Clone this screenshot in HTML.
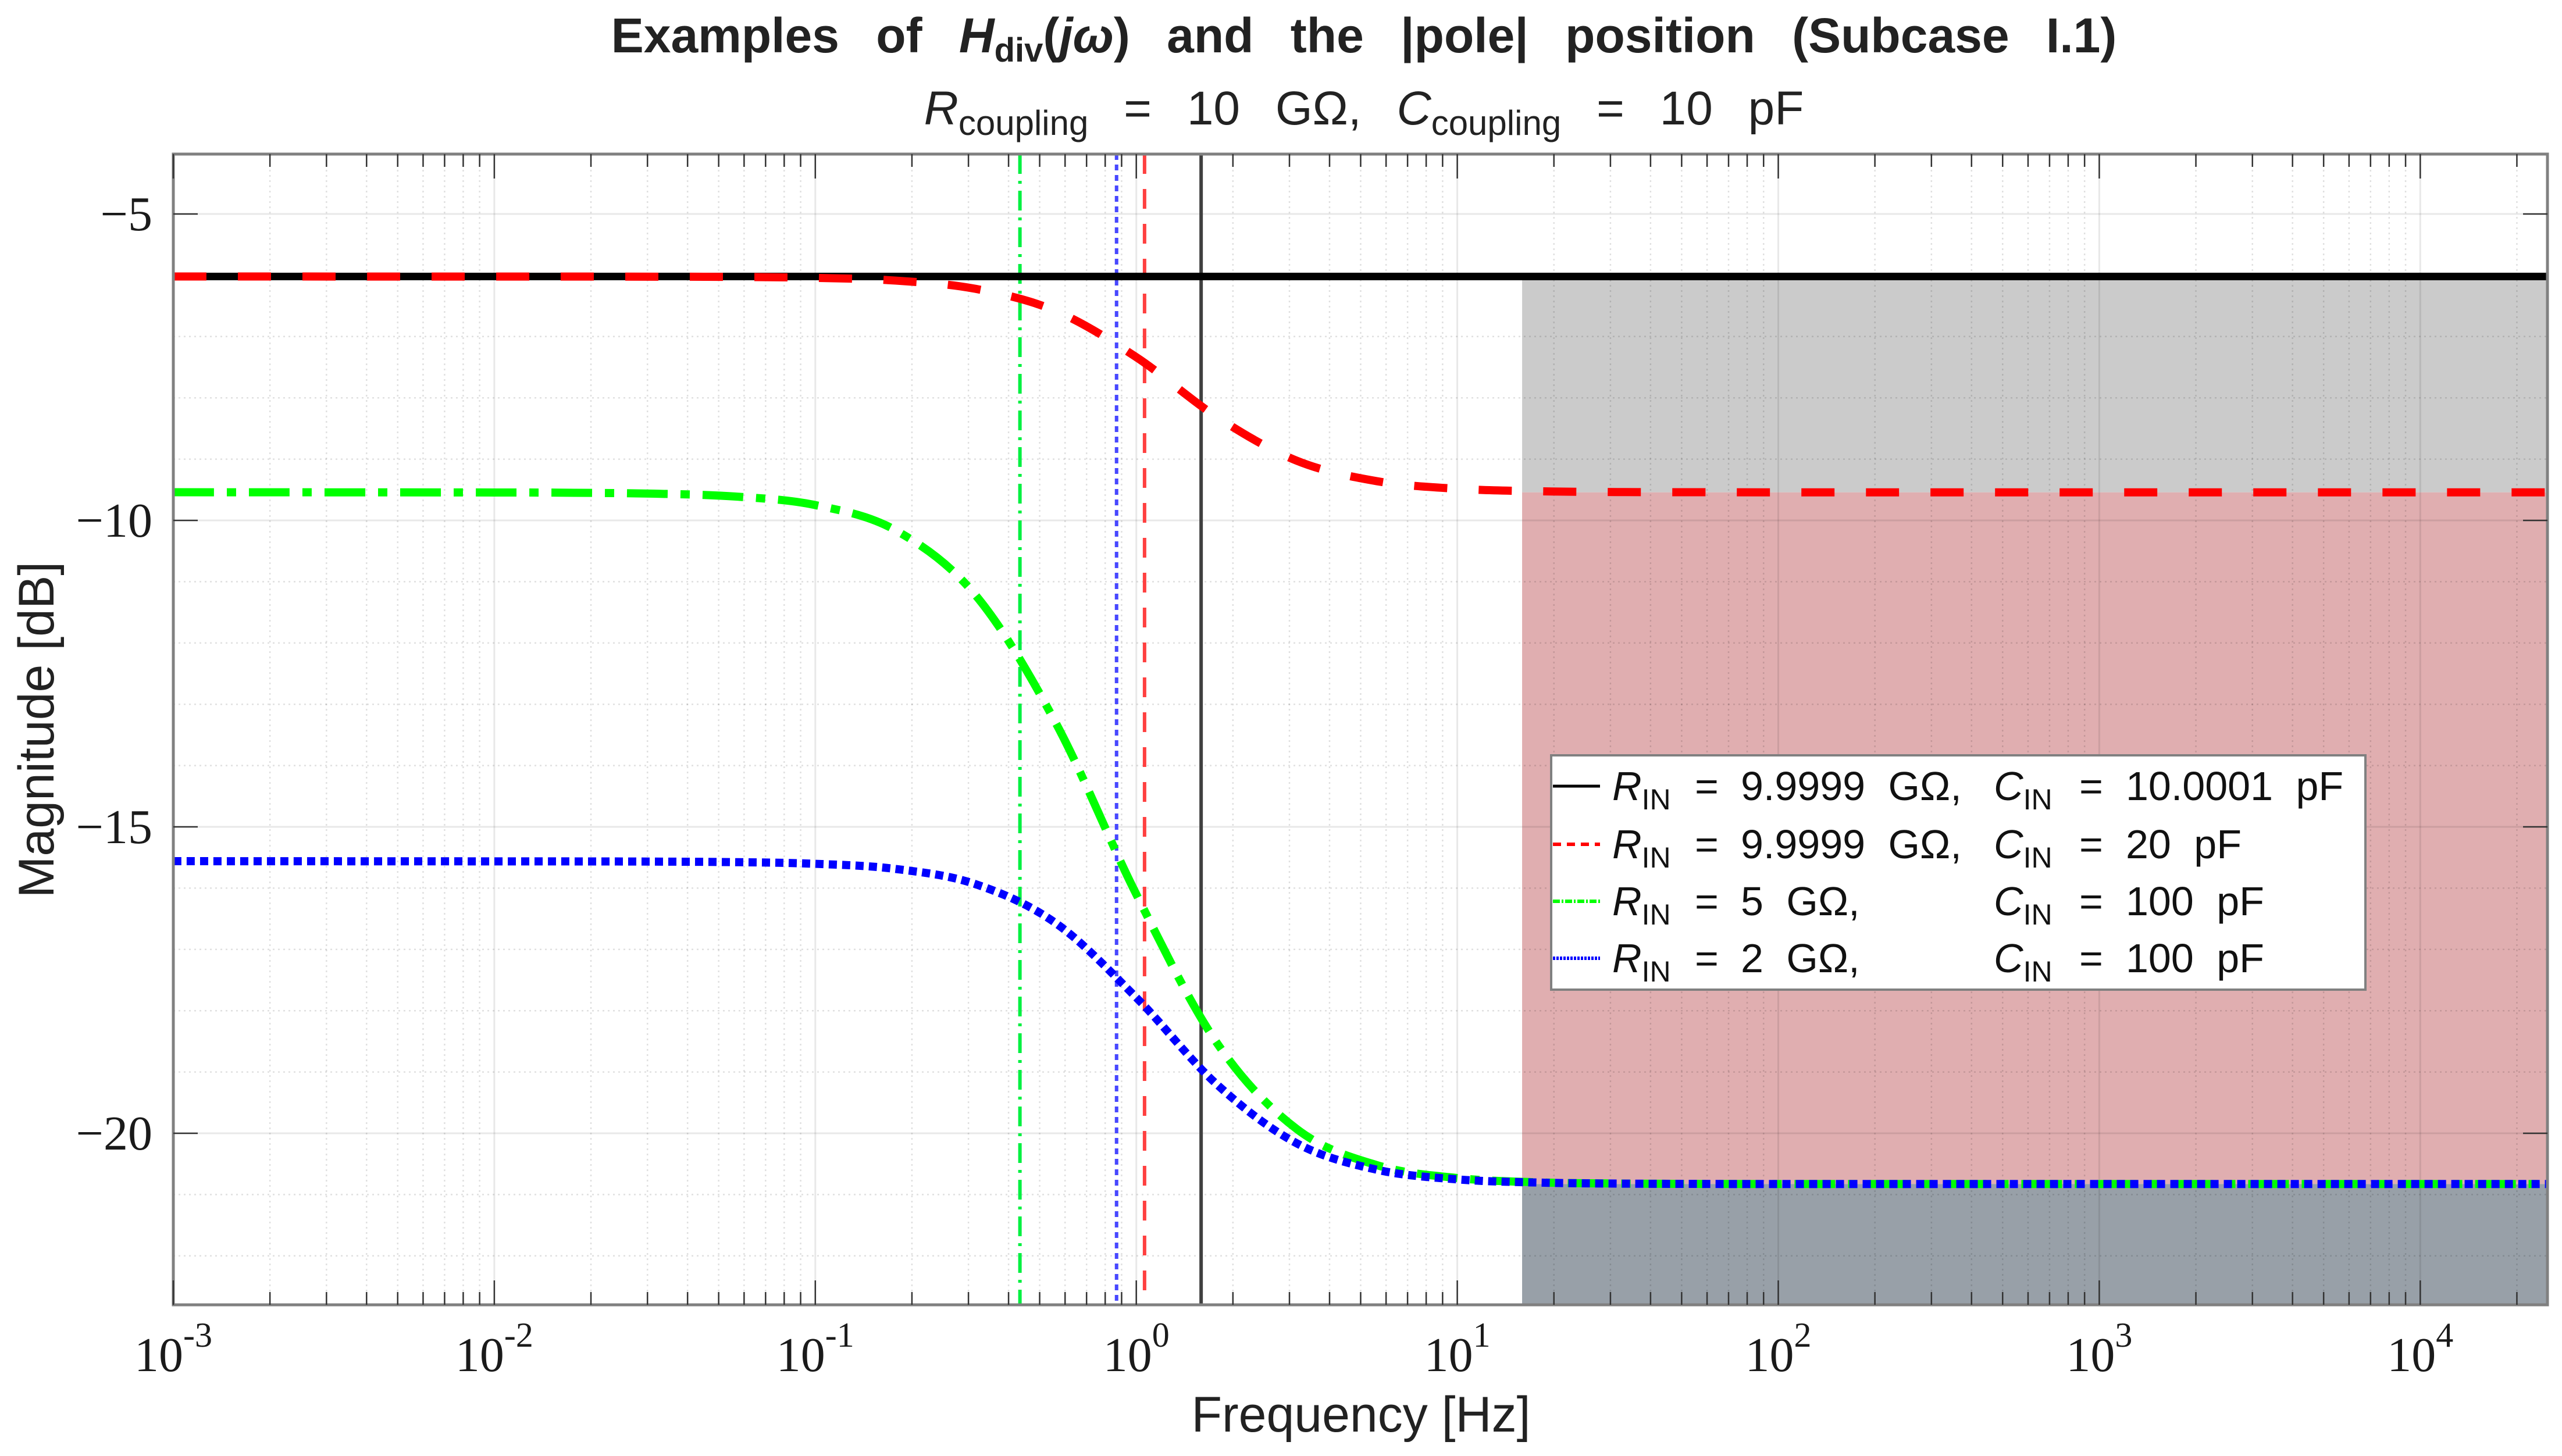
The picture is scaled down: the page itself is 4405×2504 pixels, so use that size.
<!DOCTYPE html>
<html><head><meta charset="utf-8"><title>Examples of Hdiv(jω) and the |pole| position</title>
<style>
html,body{margin:0;padding:0;background:#fff;}
svg{display:block;}
.sans{font-family:"Liberation Sans",sans-serif;}
.serif{font-family:"Liberation Serif",serif;}
</style></head>
<body>
<svg id="chart" width="4405" height="2504" viewBox="0 0 4405 2504" xmlns="http://www.w3.org/2000/svg">
  <g id="shade"></g>
  <g id="grid"></g>
  <g id="vlines"></g>
  <g id="series"></g>
  <g id="axes"></g>
  <text class="sans" x="2345" y="90" text-anchor="middle" font-size="84" font-weight="bold" fill="#222" word-spacing="40">Examples of <tspan font-style="italic">H</tspan><tspan font-size="58" dy="16">div</tspan><tspan dy="-16">(</tspan><tspan font-style="italic">jω</tspan>) and the |pole| position (Subcase I.1)</text>
  <text class="sans" x="2345" y="214" text-anchor="middle" font-size="82" fill="#222" word-spacing="38"><tspan font-style="italic">R</tspan><tspan font-size="60" dy="18">coupling</tspan><tspan dy="-18"> = 10 GΩ, </tspan><tspan font-style="italic">C</tspan><tspan font-size="60" dy="18">coupling</tspan><tspan dy="-18"> = 10 pF</tspan></text>
  <text class="sans" x="2340" y="2462" text-anchor="middle" font-size="86" fill="#222">Frequency [Hz]</text>
  <text class="sans" x="0" y="0" transform="translate(92,1255) rotate(-90)" text-anchor="middle" font-size="86" fill="#222">Magnitude [dB]</text>
  <g id="legend"></g>
</svg>
<script>
// ---- data ----
const freqs = [0.001,0.01,0.0178,0.0316,0.0562,0.1,0.178,0.316,0.562,1,1.78,3.16,5.62,10,17.8,31.6,56.2,100,1000,25000];
const blackDb = [-6.02,-6.02,-6.02,-6.02,-6.02,-6.02,-6.02,-6.02,-6.02,-6.02,-6.02,-6.02,-6.02,-6.02,-6.02,-6.02,-6.02,-6.02,-6.02,-6.02];
const redDb   = [-6.02,-6.021,-6.021,-6.023,-6.027,-6.042,-6.087,-6.222,-6.584,-7.336,-8.309,-9.025,-9.36,-9.483,-9.524,-9.537,-9.54,-9.542,-9.542,-9.542];
const greenDb = [-9.54,-9.544,-9.549,-9.564,-9.61,-9.75,-10.162,-11.223,-13.31,-16.10,-18.52,-19.93,-20.52,-20.73,-20.80,-20.82,-20.826,-20.828,-20.828,-20.828];
const blueDb  = [-15.56,-15.563,-15.564,-15.567,-15.576,-15.603,-15.687,-15.936,-16.574,-17.786,-19.20,-20.163,-20.595,-20.752,-20.804,-20.821,-20.826,-20.828,-20.828,-20.828];
const poleFreqs = [1.592,1.061,0.434,0.868];
const shadeStart = 15.92;
const shadeLevels = [-6.02,-9.542,-20.828];
const xTickExps = [-3,-2,-1,0,1,2,3,4];
const yTicks = [-5,-10,-15,-20];
const legendR = ["9.9999 GΩ,","9.9999 GΩ,","5 GΩ,","2 GΩ,"];
const legendC = ["10.0001 pF","20 pF","100 pF","100 pF"];

// ---- scales ----
const L=298,R=4380,T=265,B=2244;
const X0=-3, PXDEC=551.9, Y5=368, PXDB=105.4;
const xs=f=>L+(Math.log10(f)-X0)*PXDEC;
const ys=d=>Y5+(-5-d)*PXDB;
const NS="http://www.w3.org/2000/svg";
function mk(tag,attrs,parent){const e=document.createElementNS(NS,tag);for(const k in attrs)e.setAttribute(k,attrs[k]);parent.appendChild(e);return e;}

// shaded regions
const shade=document.getElementById('shade');
const sx=xs(shadeStart);
let r1=mk('rect',{x:sx,y:ys(shadeLevels[0]),width:R-sx,height:ys(shadeLevels[1])-ys(shadeLevels[0]),fill:'#cbcbcb'},shade);


let r2=mk('rect',{x:sx,y:ys(shadeLevels[1]),width:R-sx,height:ys(shadeLevels[2])-ys(shadeLevels[1]),fill:'#e0aeb0'},shade);


let r3=mk('rect',{x:sx,y:ys(shadeLevels[2]),width:R-sx,height:B-ys(shadeLevels[2]),fill:'#98a0a8'},shade);



// grid
const grid=document.getElementById('grid');
for(let e=-3;e<=4;e++){
  for(let m=1;m<=9;m++){
    const f=m*Math.pow(10,e); const x=xs(f); if(x>R)break;
    const g=mk('line',{x1:x,x2:x,y1:T,y2:B,stroke:'#000','stroke-opacity':m===1?0.09:0.12,'stroke-width':m===1?3:2.5,'stroke-dasharray':m===1?'':'3 6'},grid);
    
    
  }
}
for(let d=-4;d>=-22;d--){
  const y=ys(d); if(y<T||y>B)continue;
  const major=(d%5===0);
  const g=mk('line',{x1:L,x2:R,y1:y,y2:y,stroke:'#000','stroke-opacity':major?0.09:0.12,'stroke-width':major?3:2.5,'stroke-dasharray':major?'':'3 6'},grid);
  
  
}

// pole markers
const vl=document.getElementById('vlines');
const vStyles=[{c:'#404040',d:''},{c:'#ff4040',d:'34 26'},{c:'#00f040',d:'34 12 5 12'},{c:'#4848ff',d:'10 8'}];
const vNames=['pole-black','pole-red','pole-green','pole-blue'];
poleFreqs.forEach((f,i)=>{
  const l=mk('line',{x1:xs(f),x2:xs(f),y1:T,y2:B,stroke:vStyles[i].c,'stroke-width':6,'stroke-dasharray':vStyles[i].d},vl);
  
  
});

// series
function pathFor(db){
  const p=freqs.map((f,i)=>[xs(f),ys(db[i])]);
  let d=`M${p[0][0]},${p[0][1]}`;
  for(let i=0;i<p.length-1;i++){
    const p0=p[Math.max(0,i-1)],p1=p[i],p2=p[i+1],p3=p[Math.min(p.length-1,i+2)];
    const t=1/6;
    let c1=[p1[0]+(p2[0]-p0[0])*t,p1[1]+(p2[1]-p0[1])*t];
    let c2=[p2[0]-(p3[0]-p1[0])*t,p2[1]-(p3[1]-p1[1])*t];
    if(p2[0]-p1[0]>1000){c1=[p1[0]+(p2[0]-p1[0])/3,p1[1]];c2=[p2[0]-(p2[0]-p1[0])/3,p2[1]];}
    d+=` C${c1[0]},${c1[1]} ${c2[0]},${c2[1]} ${p2[0]},${p2[1]}`;
  }
  return d;
}
const ser=document.getElementById('series');
const sb=mk('path',{d:pathFor(blackDb),fill:'none',stroke:'#000','stroke-width':13},ser);


const sr=mk('path',{d:pathFor(redDb),fill:'none',stroke:'#ff0000','stroke-width':14,'stroke-dasharray':'57 54'},ser);


const sg=mk('path',{d:pathFor(greenDb),fill:'none',stroke:'#00ff00','stroke-width':14,'stroke-dasharray':'70 22 16 22'},ser);


const sbl=mk('path',{d:pathFor(blueDb),fill:'none',stroke:'#0000ff','stroke-width':14,'stroke-dasharray':'14 9'},ser);



// axes
const ax=document.getElementById('axes');
const box=mk('rect',{x:L,y:T,width:R-L,height:B-T,fill:'none',stroke:'#808080','stroke-width':5},ax);


for(let e=-3;e<=4;e++){
  for(let m=1;m<=9;m++){
    const x=xs(m*Math.pow(10,e)); if(x>R)break;
    const len=m===1?42:22;
    const t1=mk('line',{x1:x,x2:x,y1:B,y2:B-len,stroke:'#333','stroke-width':2.5},ax);
    
    
    const t2=mk('line',{x1:x,x2:x,y1:T,y2:T+len,stroke:'#333','stroke-width':2.5},ax);
    
    
  }
}
xTickExps.forEach(e=>{
  const x=xs(Math.pow(10,e));
  const t=mk('text',{x:x,y:2358,'text-anchor':'middle','font-size':84,fill:'#1a1a1a',class:'serif'},ax);
  
  
  const a=document.createElementNS(NS,'tspan');a.textContent='10';t.appendChild(a);
  const b=document.createElementNS(NS,'tspan');b.setAttribute('dy','-42');b.setAttribute('font-size','60');b.textContent=(e<0?'-':'')+Math.abs(e);t.appendChild(b);
});
yTicks.forEach(v=>{
  const y=ys(v);
  const tk=mk('line',{x1:L,x2:L+42,y1:y,y2:y,stroke:'#333','stroke-width':2.5},ax);
  
  
  const tk2=mk('line',{x1:R,x2:R-42,y1:y,y2:y,stroke:'#333','stroke-width':2.5},ax);
  
  
  const t=mk('text',{x:262,y:y+28,'text-anchor':'end','font-size':84,fill:'#1a1a1a',class:'serif'},ax);
  
  
  t.textContent='\u2212'+Math.abs(v);
});

// legend
const lg=document.getElementById('legend');
const lbox=mk('rect',{x:2667,y:1299,width:1400,height:403,fill:'#fff',stroke:'#808080','stroke-width':4},lg);


const lc=['#000','#ff0000','#00ff00','#0000ff'];
const ld=['','14 10','12 3 3 3','4 2'];
const rowY=[1352,1452,1550,1648];
const entryNames=['legend-entry-black','legend-entry-red','legend-entry-green','legend-entry-blue'];
rowY.forEach((y,i)=>{
  const g=mk('g',{},lg);
  
  
  mk('line',{x1:2670,x2:2751,y1:y,y2:y,stroke:lc[i],'stroke-width':i===0?5:6,'stroke-dasharray':ld[i]},g);
  const fs=70;
  const t1=mk('text',{x:2772,y:y+24,'font-size':fs,fill:'#111',class:'sans'},g);
  t1.innerHTML='<tspan font-style="italic">R</tspan><tspan font-size="50" dy="16">IN</tspan>';
  const e1=mk('text',{x:2914,y:y+24,'font-size':fs,fill:'#111',class:'sans'},g);e1.textContent='=';
  const v1=mk('text',{x:2993,y:y+24,'font-size':fs,fill:'#111',class:'sans','word-spacing':20},g);v1.textContent=legendR[i];
  const t2=mk('text',{x:3428,y:y+24,'font-size':fs,fill:'#111',class:'sans'},g);
  t2.innerHTML='<tspan font-style="italic">C</tspan><tspan font-size="50" dy="16">IN</tspan>';
  const e2=mk('text',{x:3575,y:y+24,'font-size':fs,fill:'#111',class:'sans'},g);e2.textContent='=';
  const v2=mk('text',{x:3655,y:y+24,'font-size':fs,fill:'#111',class:'sans','word-spacing':20},g);v2.textContent=legendC[i];
});
</script>
</body></html>
